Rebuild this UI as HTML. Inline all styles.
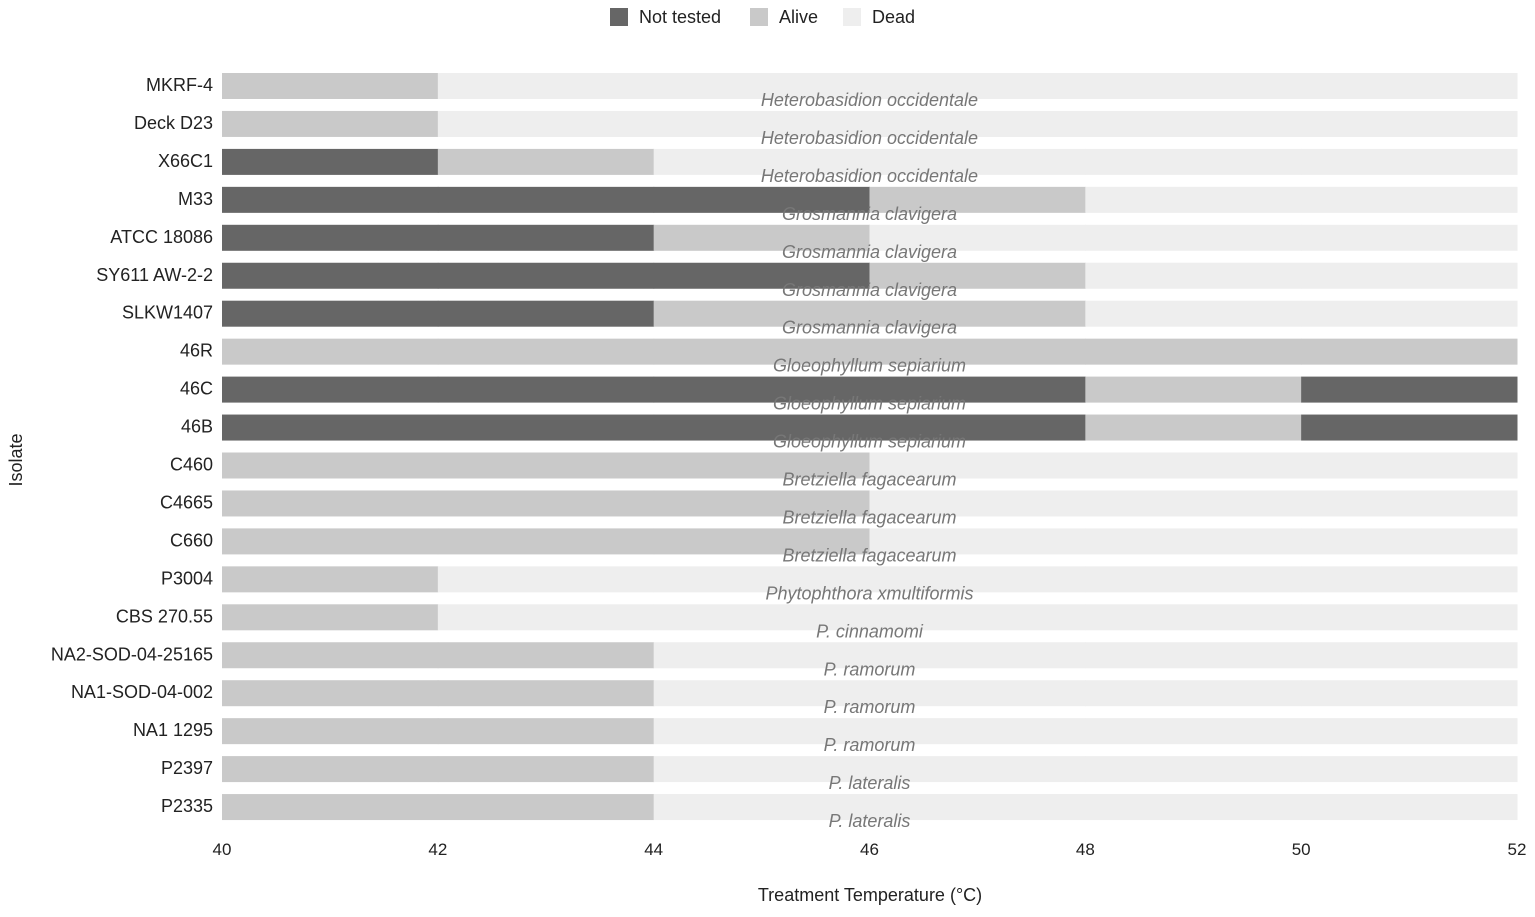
<!DOCTYPE html>
<html><head><meta charset="utf-8"><style>
body{margin:0;background:#fff;}
svg text{font-family:"Liberation Sans",Arial,sans-serif;}
</style></head><body>
<svg id="chart" width="1535" height="912" viewBox="0 0 1535 912" xmlns="http://www.w3.org/2000/svg">
<g id="legend">
<rect x="610" y="8" width="18" height="18" fill="#666"/>
<text x="639" y="23" font-size="18" fill="#222">Not tested</text>
<rect x="750" y="8" width="18" height="18" fill="#c9c9c9"/>
<text x="779" y="23" font-size="18" fill="#222">Alive</text>
<rect x="843" y="8" width="18" height="18" fill="#eeeeee"/>
<text x="872" y="23" font-size="18" fill="#222">Dead</text>
</g>
<g id="bars"></g>
<g id="ylabels"></g>
<g id="species"></g>
<g id="xticks"></g>
<text x="870" y="901" font-size="18" fill="#222" text-anchor="middle">Treatment Temperature (°C)</text>
<text x="0" y="0" font-size="18" fill="#222" text-anchor="middle" transform="translate(22,460) rotate(-90)">Isolate</text>
</svg>
<script>
const isolates=["MKRF-4","Deck D23","X66C1","M33","ATCC 18086","SY611 AW-2-2","SLKW1407","46R","46C","46B","C460","C4665","C660","P3004","CBS 270.55","NA2-SOD-04-25165","NA1-SOD-04-002","NA1 1295","P2397","P2335"];
const species=["Heterobasidion occidentale","Heterobasidion occidentale","Heterobasidion occidentale","Grosmannia clavigera","Grosmannia clavigera","Grosmannia clavigera","Grosmannia clavigera","Gloeophyllum sepiarium","Gloeophyllum sepiarium","Gloeophyllum sepiarium","Bretziella fagacearum","Bretziella fagacearum","Bretziella fagacearum","Phytophthora xmultiformis","P. cinnamomi","P. ramorum","P. ramorum","P. ramorum","P. lateralis","P. lateralis"];
const temps=[40,42,44,46,48,50,52];
// status per 2°C interval: N=not tested, A=alive, D=dead
const status=["ADDDDD","ADDDDD","NADDDD","NNNADD","NNADDD","NNNADD","NNAADD","AAAAAA","NNNNAN","NNNNAN","AAADDD","AAADDD","AAADDD","ADDDDD","ADDDDD","AADDDD","AADDDD","AADDDD","AADDDD","AADDDD"];
const colors={N:"#666666",A:"#c9c9c9",D:"#eeeeee"};
const NS="http://www.w3.org/2000/svg";
const x=v=>222+(v-40)*(1295/12);
const y=i=>86+i*37.95;
function mk(tag,attrs,parent){const e=document.createElementNS(NS,tag);for(const k in attrs)e.setAttribute(k,attrs[k]);document.getElementById(parent).appendChild(e);return e;}
isolates.forEach((name,i)=>{
  const s=status[i];
  for(let j=0;j<s.length;j++){
    const r=mk("rect",{x:x(temps[j]),y:y(i)-13,width:x(temps[j+1])-x(temps[j])+0.5,height:26,fill:colors[s[j]]},"bars");
    
    
  }
  const t=mk("text",{x:213,y:y(i)+5,"font-size":18,fill:"#222","text-anchor":"end"},"ylabels");
  t.textContent=name;
  
  
  const sp=mk("text",{x:x(46),y:y(i)+20,"font-size":18,fill:"#777","font-style":"italic","text-anchor":"middle"},"species");
  sp.textContent=species[i];
  
  
});
temps.forEach(v=>{
  const t=mk("text",{x:x(v),y:855,"font-size":17,fill:"#222","text-anchor":"middle"},"xticks");
  t.textContent=v;
  
  
});
</script>
</body></html>
